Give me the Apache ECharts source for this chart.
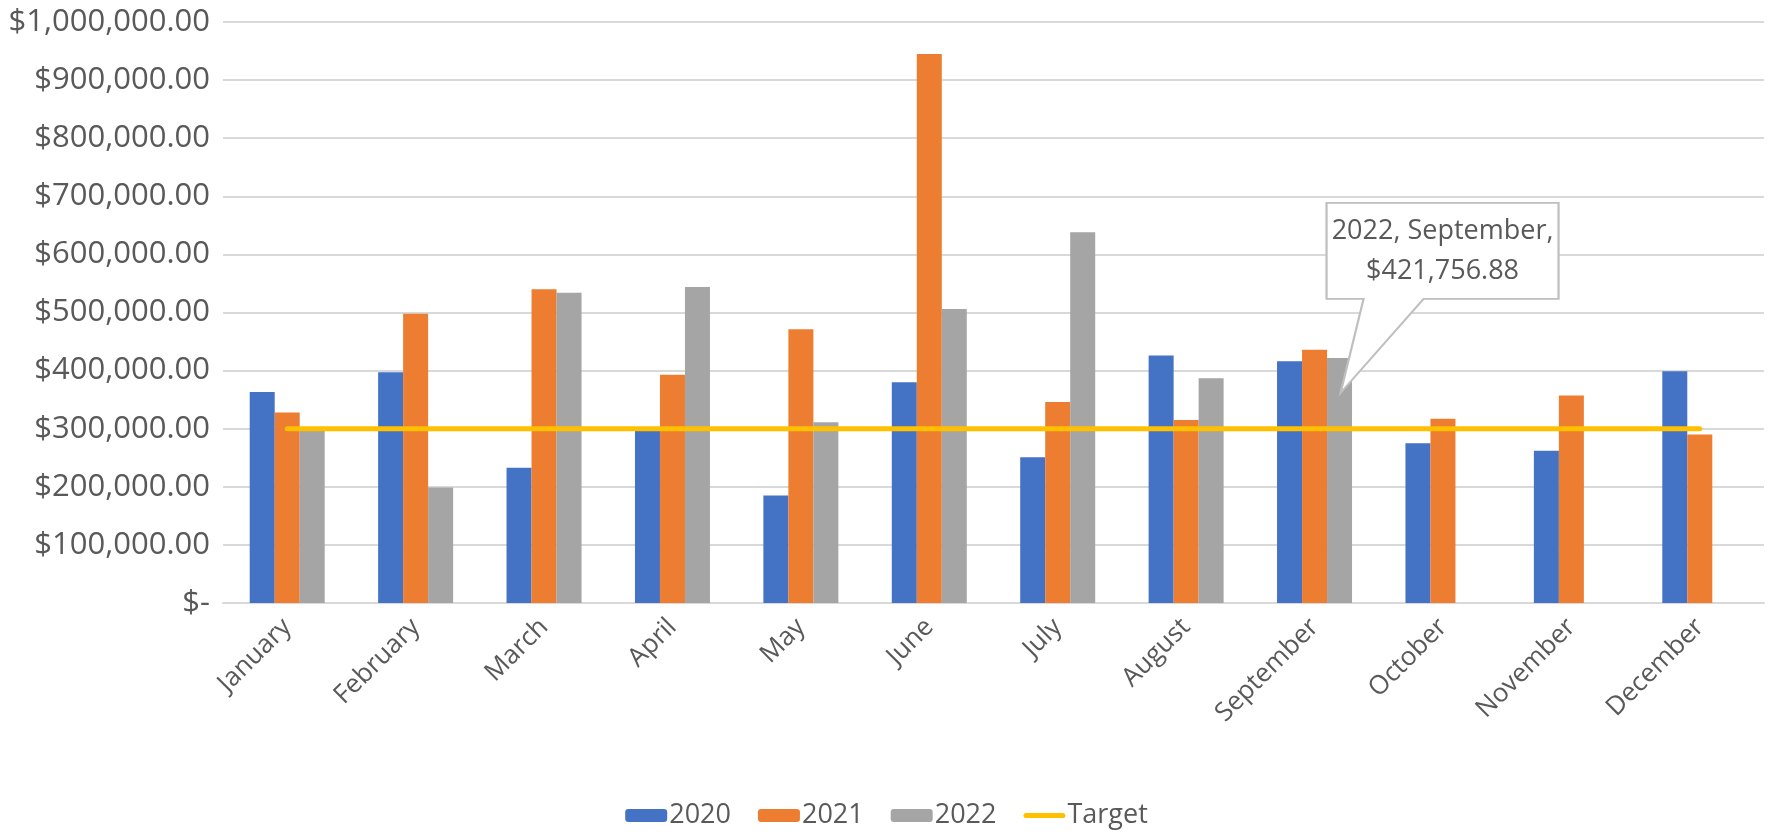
<!DOCTYPE html>
<html>
<head>
<meta charset="utf-8">
<script src="https://cdn.jsdelivr.net/npm/echarts@6/dist/echarts.min.js"></script>
<style>
  html, body { margin: 0; padding: 0; background: #ffffff; }
  #chart { width: 1773px; height: 836px; }
</style>
</head>
<body>
<div id="chart"></div>
<script>
// Monthly revenue by year, with a flat monthly target
const months = ['January', 'February', 'March', 'April', 'May', 'June',
                'July', 'August', 'September', 'October', 'November', 'December'];
const sales2020 = [363000, 397000, 233000, 297000, 185000, 380000, 251000, 426000, 416000, 275000, 262000, 399000];
const sales2021 = [328000, 498000, 540000, 393000, 471000, 945000, 346000, 315000, 436000, 317000, 357000, 290000];
const sales2022 = [297000, 199000, 534000, 544000, 311000, 506000, 638000, 387000, 421756.88, null, null, null];
const target = [300000, 300000, 300000, 300000, 300000, 300000, 300000, 300000, 300000, 300000, 300000, 300000];
const yTicks = { min: 0, max: 1000000, step: 100000 };
const calloutMonth = 'September';

const FONT = 'Open Sans';
const TEXT = '#595959';

function money(v) {
  if (v === 0) return '$-';
  return '$' + Number(v).toLocaleString('en-US', { minimumFractionDigits: 2, maximumFractionDigits: 2 });
}

const calloutIdx = months.indexOf(calloutMonth);

// thick rounded bar used as the legend key of the target line
const targetKey = 'path://M0,0 M44,13 M2.5,4 H41.5 A2.5,2.5 0 0 1 41.5,9 H2.5 A2.5,2.5 0 0 1 2.5,4 Z';

const chart = echarts.init(document.getElementById('chart'), null, { renderer: 'canvas' });

chart.setOption({
  animation: false,
  backgroundColor: '#ffffff',
  textStyle: { fontFamily: FONT },
  grid: { left: 223, right: 9, top: 22, bottom: 233, containLabel: false },
  xAxis: {
    type: 'category',
    data: months,
    axisTick: { show: false },
    axisLine: { lineStyle: { color: '#D9D9D9', width: 2 } },
    axisLabel: { rotate: 45, color: TEXT, fontSize: 26, fontFamily: FONT, margin: 20 }
  },
  yAxis: {
    type: 'value',
    min: yTicks.min,
    max: yTicks.max,
    interval: yTicks.step,
    axisLine: { show: false },
    axisTick: { show: false },
    splitLine: { lineStyle: { color: '#D9D9D9', width: 2 } },
    axisLabel: { color: TEXT, fontSize: 31, fontFamily: FONT, margin: 13, formatter: money }
  },
  legend: {
    bottom: 2,
    left: 'center',
    itemWidth: 42,
    itemHeight: 13,
    itemGap: 27,
    symbolKeepAspect: false,
    textStyle: { color: TEXT, fontSize: 27, fontFamily: FONT, padding: [0, 0, 0, -3] },
    data: ['2020', '2021', '2022', { name: 'Target', icon: targetKey, itemStyle: { color: '#FFC000' } }]
  },
  series: [
    {
      name: '2020', type: 'bar', data: sales2020, barWidth: 25, barGap: '0%',
      itemStyle: { color: '#4472C4' }
    },
    {
      name: '2021', type: 'bar', data: sales2021, barWidth: 25, barGap: '0%',
      itemStyle: { color: '#ED7D31' }
    },
    {
      name: '2022', type: 'bar', data: sales2022, barWidth: 25, barGap: '0%',
      itemStyle: { color: '#A5A5A5' },
      markPoint: {
        silent: true,
        symbol: 'path://M0,0 H232 V96 H97 L14,190 L37,96 H0 Z',
        symbolSize: [232, 190],
        symbolKeepAspect: false,
        symbolOffset: [103, -60],
        itemStyle: { color: '#ffffff', borderColor: '#BFBFBF', borderWidth: 2 },
        label: {
          show: true,
          position: 'inside',
          offset: [0, -47],
          color: TEXT,
          fontSize: 27,
          fontFamily: FONT,
          lineHeight: 40,
          align: 'center',
          formatter: p => `${p.seriesName}, ${p.name},\n${money(p.value)}`
        },
        data: [{ name: months[calloutIdx], coord: [months[calloutIdx], sales2022[calloutIdx]], value: sales2022[calloutIdx] }]
      }
    },
    {
      name: 'Target', type: 'line', data: target,
      symbol: 'none',
      lineStyle: { color: '#FFC000', width: 5, cap: 'round' },
      itemStyle: { color: '#FFC000' },
      z: 3
    }
  ]
});
</script>
</body>
</html>
